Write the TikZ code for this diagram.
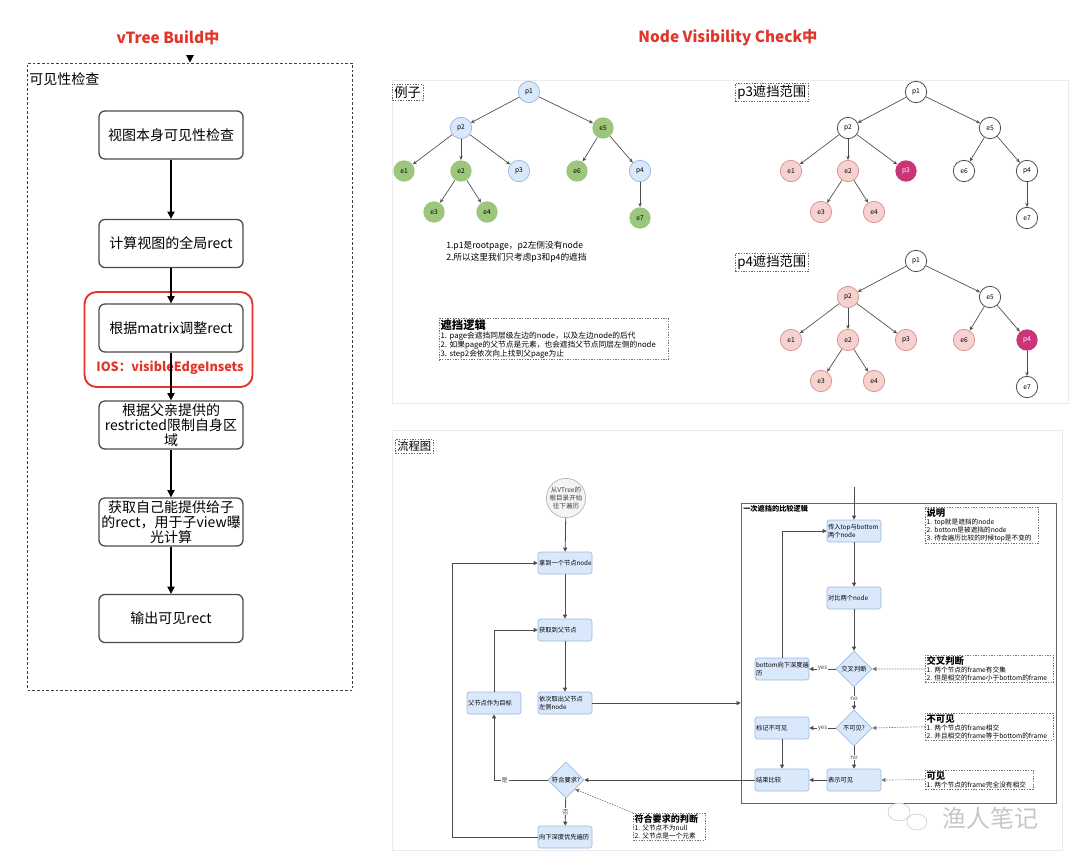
\documentclass[tikz,border=0pt]{standalone}
\usepackage{fontspec}
\setmainfont{Noto Sans CJK SC}
\usepackage{xcolor}
\usetikzlibrary{arrows.meta}
\usetikzlibrary{shapes.geometric}
\definecolor{titlered}{RGB}{226,52,40}
\definecolor{boxblue}{RGB}{218,232,252}
\definecolor{lineblue}{RGB}{158,186,224}
\definecolor{leafgreen}{RGB}{157,198,125}
\definecolor{hidpink}{RGB}{246,210,207}
\definecolor{hidline}{RGB}{214,150,146}
\definecolor{coverred}{RGB}{204,52,122}
\definecolor{startgray}{RGB}{244,244,244}

\begin{document}
\begin{tikzpicture}[x=0.75pt,y=-0.75pt,
  every node/.style={inner sep=0pt},
  headtext/.style={text=titlered,font=\fontsize{11.5}{13}\selectfont\bfseries},
  buildframe/.style={draw=black!75,dash pattern=on 2pt off 1.5pt,line width=0.7pt,minimum width=243.75pt,minimum height=470.25pt},
  stepbox/.style={draw=black!70,line width=1pt,rounded corners=4.5pt,minimum width=108pt,minimum height=36pt,align=center,font=\fontsize{10.5}{11.25}\selectfont},
  buildarrow/.style={-{Triangle[width=5.5pt,length=5.5pt]},line width=0.8pt},
  tagbox/.style={draw=black!60,dash pattern=on 1pt off 1pt,line width=0.4pt,inner sep=1.5pt,font=\fontsize{10}{11}\selectfont},
  treenode/.style={circle,minimum size=16pt,line width=0.6pt,font=\fontsize{5}{6}\selectfont},
  pnode/.style={treenode,draw=lineblue,fill=boxblue},
  enode/.style={treenode,fill=leafgreen},
  wnode/.style={treenode,draw=black!70,fill=white},
  hnode/.style={treenode,draw=hidline,fill=hidpink},
  cnode/.style={treenode,fill=coverred,text=white},
  treeedge/.style={-{Stealth[length=3pt,width=2.6pt]},draw=black!70,line width=0.5pt},
  flowbox/.style={draw=lineblue,fill=boxblue,line width=0.5pt,rounded corners=2pt,minimum width=40.5pt,minimum height=16.5pt,text width=39pt,align=left,font=\fontsize{4.7}{5.6}\selectfont},
  decision/.style={diamond,draw=lineblue,fill=boxblue,line width=0.5pt,minimum width=27pt,minimum height=27pt,font=\fontsize{4.7}{5.6}\selectfont},
  flowarrow/.style={-{Triangle[width=3pt,length=3pt]},draw=black!70,line width=0.6pt},
  notebox/.style={draw=black!55,dash pattern=on 1pt off 1pt,line width=0.4pt,inner sep=1pt,align=left,font=\fontsize{5}{6}\selectfont,execute at begin node={\hyphenpenalty=10000}},
  notearrow/.style={-{Triangle[width=3pt,length=3pt]},draw=black!55,dash pattern=on 1pt off 1pt,line width=0.5pt},
  choice/.style={fill=white,inner sep=0.6pt,text=black!70,font=\fontsize{4.6}{5}\selectfont}
]
\useasboundingbox (0,0) rectangle (1080,863);
\fill[white] (0,0) rectangle (1080,863);

\draw[black!8] (392,80) rectangle (1068,403);
\draw[black!8] (392,430) rectangle (1062,850);

% vTree Build
\node[headtext] (buildtitle) at (168,38) {vTree Build中};
\node[buildframe] (frame) at (190,376.5) {};
\node[anchor=west,font=\fontsize{10.5}{12}\selectfont] (framename) at (29,79) {可见性检查};
\coordinate (buildin) at (190,57);
\draw[buildarrow] (buildin) -- (frame.north);

\node[stepbox] (s1) at (171,135) {视图本身可见性检查};
\node[stepbox] (s2) at (171,243.5) {计算视图的全局rect};
\node[stepbox] (s3) at (171,328) {根据matrix调整rect};
\node[stepbox] (s4) at (171,425) {根据父亲提供的\\restricted限制自身区\\域};
\node[stepbox] (s5) at (171,522) {获取自己能提供给子\\的rect，用于子view曝\\光计算};
\node[stepbox] (s6) at (171,618.5) {输出可见rect};
\node[draw=titlered,line width=1.4pt,rounded corners=9pt,minimum width=126pt,minimum height=71.25pt] (iosbox) at (168.5,339.5) {};
\node[text=titlered,font=\fontsize{9.5}{11}\selectfont\bfseries] (ioslabel) at (170,368) {IOS：visibleEdgeInsets};
\foreach \a/\b in {s1/s2,s2/s3,s3/s4,s4/s5,s5/s6}
  \draw[buildarrow] (\a) -- (\b);

% Node Visibility Check
\node[headtext] (checktitle) at (728,38) {Node Visibility Check中};

\node[tagbox,anchor=north west] (extag) at (392,84) {例子};
\node[tagbox,anchor=north west] (p3tag) at (735,83) {p3遮挡范围};
\node[tagbox,anchor=north west] (p4tag) at (735,253) {p4遮挡范围};

\begin{scope}[shift={(529,92)}]
\node[pnode] (ap1) at (0,0) {p1};
\node[pnode] (ap2) at (-68,36) {p2};
\node[enode] (ae5) at (74,36) {e5};
\node[enode] (ae1) at (-125,79) {e1};
\node[enode] (ae2) at (-68,79) {e2};
\node[pnode] (ap3) at (-10,79) {p3};
\node[enode] (ae6) at (48,79) {e6};
\node[pnode] (ap4) at (111,79) {p4};
\node[enode] (ae3) at (-95,120) {e3};
\node[enode] (ae4) at (-42,120) {e4};
\node[enode] (ae7) at (111,126) {e7};
\end{scope}

\begin{scope}[shift={(916,92)}]
\node[wnode] (bp1) at (0,0) {p1};
\node[wnode] (bp2) at (-68,36) {p2};
\node[wnode] (be5) at (74,36) {e5};
\node[hnode] (be1) at (-125,79) {e1};
\node[hnode] (be2) at (-68,79) {e2};
\node[cnode] (bp3) at (-10,79) {p3};
\node[wnode] (be6) at (48,79) {e6};
\node[wnode] (bp4) at (111,79) {p4};
\node[hnode] (be3) at (-95,120) {e3};
\node[hnode] (be4) at (-42,120) {e4};
\node[wnode] (be7) at (111,126) {e7};
\end{scope}

\begin{scope}[shift={(916,261)}]
\node[wnode] (cp1) at (0,0) {p1};
\node[hnode] (cp2) at (-68,36) {p2};
\node[wnode] (ce5) at (74,36) {e5};
\node[hnode] (ce1) at (-125,79) {e1};
\node[hnode] (ce2) at (-68,79) {e2};
\node[hnode] (cp3) at (-10,79) {p3};
\node[hnode] (ce6) at (48,79) {e6};
\node[cnode] (cp4) at (111,79) {p4};
\node[hnode] (ce3) at (-95,120) {e3};
\node[hnode] (ce4) at (-42,120) {e4};
\node[wnode] (ce7) at (111,126) {e7};
\end{scope}

\foreach \t in {a,b,c}
  \foreach \u/\v in {p1/p2,p1/e5,p2/e1,p2/e2,p2/p3,e2/e3,e2/e4,e5/e6,e5/p4,p4/e7}
    \draw[treeedge] (\t\u) -- (\t\v);

\node[anchor=north west,align=left,font=\fontsize{6.5}{9}\selectfont] (exnote) at (446,241) {1.p1是rootpage，p2左侧没有node\\2.所以这里我们只考虑p3和p4的遮挡};
\node[notebox,anchor=north west,text width=170pt,font=\fontsize{5.8}{6.75}\selectfont] (logic) at (439,318) {{\fontsize{8.5}{10}\selectfont\bfseries 遮挡逻辑}\\1.~page会遮挡同层级左边的node，以及左边node的后代\\2.~如果page的父节点是元素，也会遮挡父节点同层左侧的node\\3.~step2会依次向上找到父page为止};

% flow
\node[tagbox,anchor=north west,font=\fontsize{8.5}{9}\selectfont] (flowtag) at (395,439) {流程图};

\node[circle,draw=black!30,fill=startgray,line width=0.5pt,align=center,font=\fontsize{4.9}{6}\selectfont,text=black!75] (start) at (566,498) {从VTree的\\根目录开始\\往下遍历};
\node[flowbox] (take) at (565,563) {拿到一个节点node};
\node[flowbox] (parent) at (565,630) {获取到父节点};
\node[flowbox] (left) at (565,703) {依次取出父节点\\左侧node};
\node[flowbox] (target) at (494,703) {父节点作为目标};
\node[decision] (req) at (566,780) {符合要求?};
\node[flowbox] (dfs) at (565,837) {向下深度优先遍历};

\draw[flowarrow] (start) -- (take);
\draw[flowarrow] (take) -- (parent);
\draw[flowarrow] (parent) -- (left);
\draw[flowarrow] (req) -- (dfs) node[choice,midway] {否};
\draw[flowarrow] (req) -| (target) node[choice,pos=0.4] {是};
\draw[flowarrow] (target) |- (parent);
\draw[flowarrow] (dfs.west) -- ++(-85,0) |- (take);

\node[draw=black!60,line width=0.6pt,minimum width=236.25pt,minimum height=225pt] (cmp) at (898.5,653) {};
\node[anchor=north west,font=\fontsize{5.4}{6}\selectfont\bfseries] (cmpname) at (743,505) {一次遮挡的比较逻辑};
\draw[flowarrow] (left) -- (left -| cmp.west);

\coordinate (cmpin) at (854,487);
\node[flowbox] (pass) at (854,531) {传入top与bottom\\两个node};
\node[flowbox] (compare) at (854,598) {对比两个node};
\node[decision] (cross) at (854,669) {交叉判断};
\node[flowbox] (deeper) at (782,669) {bottom向下深度遍\\历};
\node[decision] (hide) at (854,728) {不可见?};
\node[flowbox] (hidemark) at (782,728) {标记不可见};
\node[flowbox] (show) at (854,780) {表示可见};
\node[flowbox] (done) at (782,780) {结束比较};

\draw[flowarrow] (cmpin) -- (pass);
\draw[flowarrow] (pass) -- (compare);
\draw[flowarrow] (compare) -- (cross);
\draw[flowarrow] (cross) -- (deeper) node[choice,midway] {yes};
\draw[flowarrow] (deeper) |- (pass);
\draw[flowarrow] (cross) -- (hide) node[choice,midway] {no};
\draw[flowarrow] (hide) -- (hidemark) node[choice,midway] {yes};
\draw[flowarrow] (hide) -- (show) node[choice,midway] {no};
\draw[flowarrow] (hidemark) -- (done);
\draw[flowarrow] (show) -- (done);
\draw[flowarrow] (done) -- (req);

\node[notebox,anchor=north west,text width=83pt] (explain) at (925,507) {{\fontsize{7}{8}\selectfont\bfseries 说明}\\1.~top就是遮挡的node\\2.~bottom是被遮挡的node\\3.~待会遍历比较的时候top是不变的};
\node[notebox,anchor=north west,text width=94pt] (crossnote) at (925,655) {{\fontsize{7}{8}\selectfont\bfseries 交叉判断}\\1.~两个节点的frame有交集\\2.~但是相交的frame小于bottom的frame};
\node[notebox,anchor=north west,text width=94pt] (hidenote) at (925,713) {{\fontsize{7}{8}\selectfont\bfseries 不可见}\\1.~两个节点的frame相交\\2.~并且相交的frame等于bottom的frame};
\node[notebox,anchor=north west,text width=79pt] (shownote) at (925,770) {{\fontsize{7}{8}\selectfont\bfseries 可见}\\1.~两个节点的frame完全没有相交};
\node[notebox,anchor=north west,text width=52pt] (reqnote) at (633,813) {{\fontsize{6.8}{8}\selectfont\bfseries 符合要求的判断}\\1.~父节点不为null\\2.~父节点是一个元素};

\draw[notearrow] (crossnote.west) -- (cross.east);
\draw[notearrow] (hidenote.west) -- (hide.east);
\draw[notearrow] (shownote.west) -- (show.east);
\draw[notearrow] (reqnote.north west) -- (req.south east);

% watermark
\draw[black!22,fill=white] (899,812) ellipse (11 and 9);
\draw[black!22,fill=white] (917,822) ellipse (10 and 8);
\node[text=black!22,font=\fontsize{18}{18}\selectfont] (wmtext) at (990,818) {渔人笔记};
\end{tikzpicture}
\end{document}
